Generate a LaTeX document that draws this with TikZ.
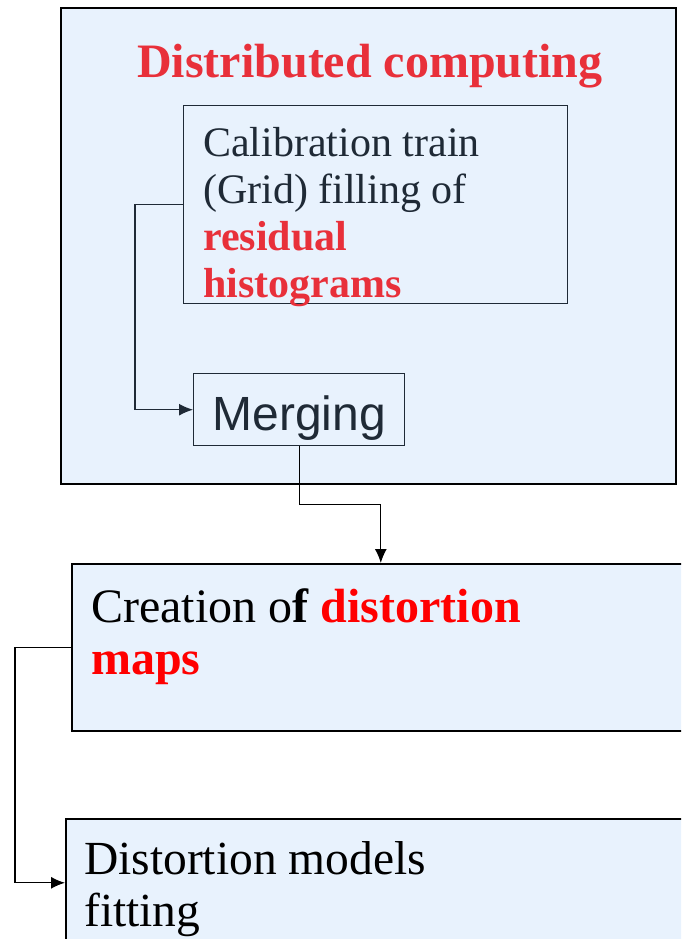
\documentclass[tikz,border=0pt]{standalone}
\usepackage{fontspec}
\setmainfont{Liberation Serif}
\setsansfont{Liberation Sans}
\usetikzlibrary{arrows.meta}
\definecolor{boxblue}{HTML}{E8F2FD}
\definecolor{titlered}{HTML}{E8303A}
\definecolor{slate}{HTML}{1F2A36}

\begin{document}
\begin{tikzpicture}[x=1pt, y=-1pt,
  bigbox/.style={draw=black, line width=1.6pt, fill=boxblue, anchor=north west, inner sep=0pt},
  smallbox/.style={draw=slate, line width=1.4pt, anchor=north west, inner sep=0pt},
  boxtext/.style={anchor=north west, align=left, inner sep=0pt},
  link/.style={line width=1.3pt, -{Latex[length=14pt,width=12pt]}}]
\clip (0,0) rectangle (681,939);
% the grid part
\node[bigbox, minimum width=615pt, minimum height=476pt] at (60,7) (dist) {};
\node[anchor=base, text=titlered, font=\fontsize{48}{56}\selectfont\bfseries, inner sep=0pt] at (370,78) (title) {Distributed computing};
\node[smallbox, minimum width=384pt, minimum height=198pt] at (183,105) (calib) {};
\node[boxtext, text=slate, font=\fontsize{42}{47}\selectfont] at (203,127) (calibtext) {Calibration train\\(Grid) filling of\\\textcolor{titlered}{\bfseries residual}\\\textcolor{titlered}{\bfseries histograms}};
\node[smallbox, minimum width=211pt, minimum height=72pt, text height=42pt, text depth=0pt, text=slate, font=\fontsize{48}{52}\selectfont\sffamily] at (193,373) (merge) {Merging};
% local part
\node[bigbox, minimum width=618pt, minimum height=167pt] at (71,563) (create) {};
\node[boxtext, font=\fontsize{48}{52}\selectfont] at (91,588) (createtext) {Creation o\textbf{f} \textcolor{red}{\bfseries distortion}\\\textcolor{red}{\bfseries maps}};
\node[bigbox, minimum width=640pt, minimum height=128pt] at (65,818) (fit) {};
\node[boxtext, font=\fontsize{47.5}{52}\selectfont] at (84,841) (fittext) {Distortion models\\fitting};
\draw[link, draw=slate] (calib.west) -- ++(-48,0) |- (merge.west);
\draw[link] (merge.south) -- ++(0,58) -| (create.north);
\draw[link] (create.west) -- ++(-56,0) |- (fit.west);
\end{tikzpicture}
\end{document}
